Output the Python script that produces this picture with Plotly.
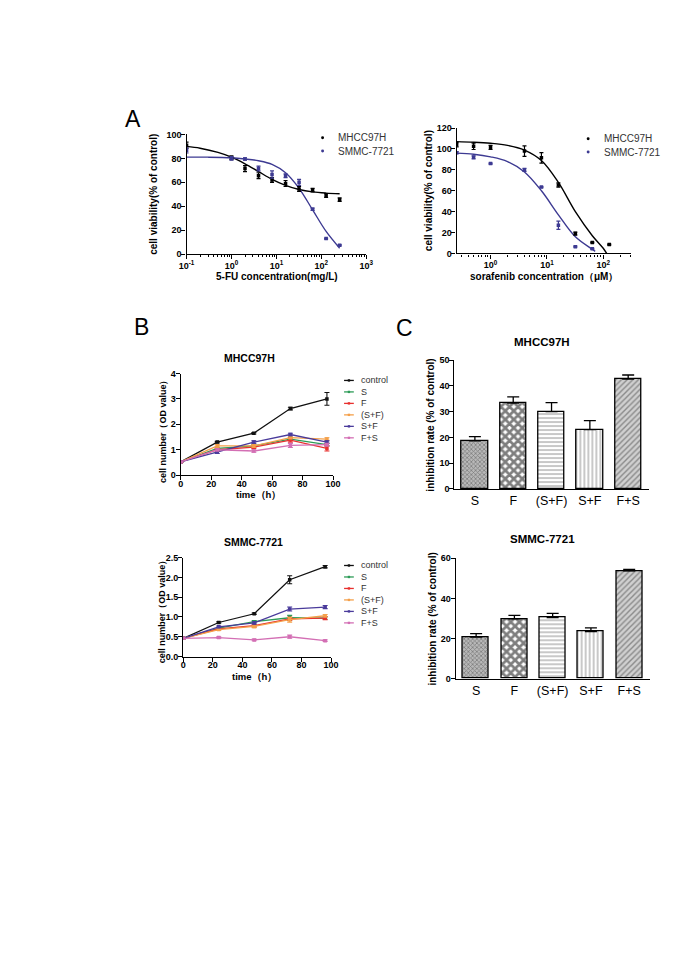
import plotly.graph_objects as go

W, H = 685, 969
OFF = 8  # default page body margin of the html page
FW, FH = W - OFF, H - OFF
FONT = "Liberation Sans, Arial, sans-serif"

# ---------------- Panel A data ----------------
fu_conc = [0.1, 1, 2, 4, 8, 16, 32, 64, 128, 256]
fu_mhcc = [91, 80.5, 71.5, 65.5, 62, 59, 54.5, 53.5, 49, 45.5]
fu_mhcc_err = [2.5, 1.5, 2.5, 2.5, 2, 2.5, 2, 1.5, 1.5, 1.5]
fu_smmc = [86.5, 80, 79.5, 71.5, 66.5, 65.5, 60, 37.5, 13, 7.5]
fu_smmc_err = [2, 1.5, 1, 2, 3, 1.5, 2.5, 1, 0.5, 0.5]

fu_fit_mhcc_x = [0.1, 0.2, 0.5, 1, 2, 4, 8, 16, 32, 64, 128, 256]
fu_fit_mhcc_y = [90, 88.5, 85, 81, 75.5, 69, 62.5, 57.5, 54, 52, 51, 50.5]
fu_fit_smmc_x = [0.1, 0.3, 1, 2, 4, 8, 16, 32, 64, 128, 256]
fu_fit_smmc_y = [81, 81, 80.5, 79.5, 78, 75, 68, 55, 37, 19, 5]

sor_conc = [0.25, 0.5, 1, 4, 8, 16, 32, 64, 128]
sor_mhcc = [104, 102.5, 101.5, 98, 91.5, 65.5, 19, 10.5, 8.5]
sor_mhcc_err = [2, 3, 2, 5, 5, 2, 1.5, 0.5, 0.5]
sor_smmc = [96.5, 92, 86, 80, 63.5, 27, 6.5, 4.5, None]
sor_smmc_err = [1, 1.5, 0.5, 1.5, 0.5, 4, 0.5, 0.5, 0]

sor_fit_mhcc_x = [0.25, 0.5, 1, 2, 4, 8, 16, 32, 64, 100, 115]
sor_fit_mhcc_y = [107, 106.5, 105.5, 103.5, 99, 89, 68, 40, 17, 5, 0]
sor_fit_smmc_x = [0.25, 0.5, 1, 2, 4, 8, 16, 32, 64, 72]
sor_fit_smmc_y = [96, 95, 92.5, 88, 78, 60, 37, 16, 4, 2]

# ---------------- Panel B data ----------------
time_h = [0, 24, 48, 72, 96]
groups = ["control", "S", "F", "(S+F)", "S+F", "F+S"]
mhcc_growth = {
    "control": [0.52, 1.3, 1.65, 2.62, 3.0],
    "S": [0.52, 1.05, 1.15, 1.42, 1.2],
    "F": [0.52, 1.0, 1.1, 1.38, 1.05],
    "(S+F)": [0.52, 1.15, 1.15, 1.48, 1.42],
    "S+F": [0.52, 0.9, 1.3, 1.6, 1.3],
    "F+S": [0.52, 1.0, 0.95, 1.17, 1.2],
}
mhcc_growth_err = {
    "control": [0.02, 0.03, 0.03, 0.05, 0.25],
    "S": [0.02, 0.05, 0.05, 0.05, 0.05],
    "F": [0.02, 0.05, 0.05, 0.08, 0.1],
    "(S+F)": [0.02, 0.05, 0.05, 0.05, 0.05],
    "S+F": [0.02, 0.05, 0.05, 0.05, 0.05],
    "F+S": [0.02, 0.05, 0.05, 0.08, 0.05],
}
smmc_growth = {
    "control": [0.46, 0.86, 1.08, 1.94, 2.27],
    "S": [0.46, 0.72, 0.88, 0.98, 0.97],
    "F": [0.46, 0.7, 0.78, 0.95, 0.97],
    "(S+F)": [0.46, 0.68, 0.76, 0.93, 1.03],
    "S+F": [0.46, 0.75, 0.85, 1.2, 1.25],
    "F+S": [0.46, 0.48, 0.42, 0.5, 0.4],
}
smmc_growth_err = {
    "control": [0.01, 0.02, 0.02, 0.1, 0.03],
    "S": [0.01, 0.02, 0.03, 0.06, 0.03],
    "F": [0.01, 0.02, 0.03, 0.04, 0.04],
    "(S+F)": [0.01, 0.02, 0.03, 0.06, 0.03],
    "S+F": [0.01, 0.02, 0.03, 0.05, 0.04],
    "F+S": [0.01, 0.02, 0.02, 0.04, 0.02],
}
group_colors = ["#111111", "#2e9c58", "#e8312f", "#f4a04a", "#4a3b9b", "#d36fb4"]

# ---------------- Panel C data ----------------
bar_cats = ["S", "F", "(S+F)", "S+F", "F+S"]
inhib_mhcc = [18.7, 33.3, 30.0, 23.0, 42.6]
inhib_mhcc_err = [1.6, 2.4, 3.5, 3.5, 1.6]
inhib_smmc = [20.7, 29.8, 30.4, 23.5, 53.7]
inhib_smmc_err = [1.8, 1.8, 2.1, 1.8, 0.8]

A_BLUE = "#3d3a92"


def px(x):
    return (x - OFF) / FW


def py(y):
    return 1 - (y - OFF) / FH


def xd(l, r):
    return [px(l), px(r)]


def yd(t, b):
    return [py(b), py(t)]


fig = go.Figure()

# ---- A left ----
fig.add_trace(go.Scatter(x=fu_fit_mhcc_x, y=fu_fit_mhcc_y, mode="lines", line=dict(color="black", width=1.4, shape="spline"),
                         xaxis="x", yaxis="y", showlegend=False))
fig.add_trace(go.Scatter(x=fu_fit_smmc_x, y=fu_fit_smmc_y, mode="lines", line=dict(color=A_BLUE, width=1.4, shape="spline"),
                         xaxis="x", yaxis="y", showlegend=False))
fig.add_trace(go.Scatter(x=fu_conc, y=fu_mhcc, mode="markers", marker=dict(color="black", size=3.5, symbol="square"),
                         error_y=dict(type="data", array=fu_mhcc_err, color="black", thickness=1.2, width=2),
                         xaxis="x", yaxis="y", showlegend=False))
fig.add_trace(go.Scatter(x=fu_conc, y=fu_smmc, mode="markers", marker=dict(color=A_BLUE, size=3.5, symbol="square"),
                         error_y=dict(type="data", array=fu_smmc_err, color=A_BLUE, thickness=1.2, width=2),
                         xaxis="x", yaxis="y", showlegend=False))

# ---- A right ----
fig.add_trace(go.Scatter(x=sor_fit_mhcc_x, y=sor_fit_mhcc_y, mode="lines", line=dict(color="black", width=1.4, shape="spline"),
                         xaxis="x2", yaxis="y2", showlegend=False))
fig.add_trace(go.Scatter(x=sor_fit_smmc_x, y=sor_fit_smmc_y, mode="lines", line=dict(color=A_BLUE, width=1.4, shape="spline"),
                         xaxis="x2", yaxis="y2", showlegend=False))
fig.add_trace(go.Scatter(x=sor_conc, y=sor_mhcc, mode="markers", marker=dict(color="black", size=3.5, symbol="square"),
                         error_y=dict(type="data", array=sor_mhcc_err, color="black", thickness=1.2, width=2),
                         xaxis="x2", yaxis="y2", showlegend=False))
fig.add_trace(go.Scatter(x=sor_conc, y=sor_smmc, mode="markers", marker=dict(color=A_BLUE, size=3.5, symbol="square"),
                         error_y=dict(type="data", array=sor_smmc_err, color=A_BLUE, thickness=1.2, width=2),
                         xaxis="x2", yaxis="y2", showlegend=False))

# ---- B ----
for ax, data, err in [("3", mhcc_growth, mhcc_growth_err), ("4", smmc_growth, smmc_growth_err)]:
    for g, c in zip(groups, group_colors):
        fig.add_trace(go.Scatter(x=time_h, y=data[g], mode="lines+markers",
                                 line=dict(color=c, width=1.3), marker=dict(color=c, size=3.5, symbol="square"),
                                 error_y=dict(type="data", array=err[g], color=c, thickness=1.1, width=2.5),
                                 xaxis="x" + ax, yaxis="y" + ax, showlegend=False))

# ---- C ----
pat = dict(
    shape=["x", "x", "-", "|", "/"],
    fgcolor=["#444444", "#000000", "#222222", "#222222", "#444444"],
    bgcolor=["#b8b8b8", "#ffffff", "#ffffff", "#ffffff", "#d0d0d0"],
    size=[3, 6, 4, 4, 4],
    solidity=[0.45, 0.7, 0.25, 0.25, 0.35],
    fillmode="overlay",
)
for ax, vals, err in [("5", inhib_mhcc, inhib_mhcc_err), ("6", inhib_smmc, inhib_smmc_err)]:
    fig.add_trace(go.Bar(x=bar_cats, y=vals, width=0.68,
                         marker=dict(color="white", line=dict(color="black", width=1.3), pattern=pat),
                         error_y=dict(type="data", symmetric=False, array=err, arrayminus=[0] * len(err),
                                      color="black", thickness=1.3, width=6),
                         xaxis="x" + ax, yaxis="y" + ax, showlegend=False))

tickfont = dict(family=FONT, size=9, color="black", weight="bold")
base = dict(showline=True, linecolor="black", linewidth=1.3, ticks="outside", ticklen=4, tickwidth=1.3,
            tickcolor="black", showgrid=False, zeroline=False, tickfont=tickfont, fixedrange=True)
xb = dict(base, ticklabelstandoff=-4)
xlog = dict(base, ticklabelstandoff=-1)
yb = dict(base, ticklabelstandoff=-2)


def log_minor(lo, hi):
    vals = []
    for e in range(lo, hi):
        for m in range(2, 10):
            vals.append(m * 10 ** e)
    return vals


layout = dict(
    width=FW, height=FH, margin=dict(l=0, r=0, t=0, b=0),
    paper_bgcolor="white", plot_bgcolor="rgba(0,0,0,0)", bargap=0,
    xaxis=dict(xlog, type="log", domain=xd(182.7, 366.7), range=[-1, 3], anchor="y",
               tickvals=[0.1, 1, 10, 100, 1000],
               ticktext=["10<sup>-1</sup>", "10<sup>0</sup>", "10<sup>1</sup>", "10<sup>2</sup>", "10<sup>3</sup>"],
               minor=dict(ticks="outside", ticklen=2, tickwidth=1, tickcolor="black", tickvals=log_minor(-1, 3))),
    yaxis=dict(yb, domain=yd(130.7, 251.7), range=[0, 100], anchor="x", tickvals=[0, 20, 40, 60, 80, 100]),
    xaxis2=dict(xlog, type="log", domain=xd(459.3, 638.3), range=[-0.602, 2.5], anchor="y2",
                tickvals=[1, 10, 100],
                ticktext=["10<sup>0</sup>", "10<sup>1</sup>", "10<sup>2</sup>"],
                minor=dict(ticks="outside", ticklen=2, tickwidth=1, tickcolor="black",
                           tickvals=[0.3, 0.4, 0.5, 0.6, 0.7, 0.8, 0.9] + log_minor(0, 2) + [200, 300])),
    yaxis2=dict(yb, domain=yd(124.3, 251), range=[0, 120], anchor="x2", tickvals=[0, 20, 40, 60, 80, 100, 120]),
    xaxis3=dict(xb, domain=xd(176.7, 332.7), range=[0, 100], anchor="y3", tickvals=[0, 20, 40, 60, 80, 100]),
    yaxis3=dict(yb, domain=yd(372.3, 475), range=[0, 4], anchor="x3", tickvals=[0, 1, 2, 3, 4]),
    xaxis4=dict(xb, domain=xd(179.3, 330.7), range=[0, 100], anchor="y4", tickvals=[0, 20, 40, 60, 80, 100]),
    yaxis4=dict(yb, domain=yd(558.3, 658.3), range=[0, 2.5], anchor="x4",
                tickvals=[0, 0.5, 1, 1.5, 2, 2.5], ticktext=["0.0", "0.5", "1.0", "1.5", "2.0", "2.5"]),
    xaxis5=dict(xb, domain=xd(457, 656), range=[-0.535, 4.535], anchor="y5", ticks="", ticklabelstandoff=0,
                tickfont=dict(family=FONT, size=12.5, color="black")),
    yaxis5=dict(yb, domain=yd(358.7, 489), range=[0, 50], anchor="x5", tickvals=[0, 10, 20, 30, 40, 50]),
    xaxis6=dict(xb, domain=xd(458.3, 657), range=[-0.535, 4.535], anchor="y6", ticks="", ticklabelstandoff=0,
                tickfont=dict(family=FONT, size=12.5, color="black")),
    yaxis6=dict(yb, domain=yd(559, 680.7), range=[0, 60], anchor="x6", tickvals=[0, 20, 40, 60]),
)
fig.update_layout(**layout)

annotations = []
shapes = []


def text(x, y, s, size=10, bold=True, angle=0, color="black", xanchor="center", family=FONT):
    annotations.append(dict(x=px(x), y=py(y), xref="paper", yref="paper", text=s, showarrow=False,
                            textangle=angle, xanchor=xanchor, yanchor="middle",
                            font=dict(family=family, size=size, color=color, weight="bold" if bold else "normal")))


# Panel letters
text(128, 115, "A", size=23, bold=False)
text(137, 325, "B", size=23, bold=False)
text(406, 326, "C", size=23, bold=False)

# A axis titles
text(148, 191, "cell viability(% of control)", size=10, angle=-90)
text(275, 274, "5-FU concentration(mg/L)", size=10)
text(430, 188, "cell viability(% of control)", size=10, angle=-90)
text(549, 274, "sorafenib concentration（μM）", size=10)

# A legends
for (lx, tx), ys in [((322, 336), (134, 147.5)), ((594, 608), (135, 148.5))]:
    for name, c, y in zip(["MHCC97H", "SMMC-7721"], ["black", A_BLUE], ys):
        shapes.append(dict(type="circle", xref="paper", yref="paper", x0=px(lx - 1.5), x1=px(lx + 1.5),
                           y0=py(y + 1.5), y1=py(y - 1.5), fillcolor=c, line=dict(width=0)))
        text(tx, y, name, size=10, bold=False, color="#333333", xanchor="left")

# B titles and axis titles
text(247, 357, "MHCC97H", size=10.5)
text(158, 428, "cell number（OD value）", size=9, angle=-90)
text(256, 495, "time（h）", size=9.5)
text(251, 543, "SMMC-7721", size=10.5)
text(157, 610, "cell number（OD value）", size=9, angle=-90)
text(252, 678, "time（h）", size=9.5)

# B legends
for y0 in [379.3, 566.3]:
    for i, (g, c) in enumerate(zip(groups, group_colors)):
        y = y0 + i * 11.6
        shapes.append(dict(type="line", xref="paper", yref="paper", x0=px(344), x1=px(354), y0=py(y), y1=py(y),
                           line=dict(color=c, width=1.3)))
        shapes.append(dict(type="rect", xref="paper", yref="paper", x0=px(347.8), x1=px(350.2),
                           y0=py(y + 1.2), y1=py(y - 1.2), fillcolor=c, line=dict(width=0)))
        text(359, y, g, size=9, bold=False, color="#333333", xanchor="left")

# C titles
text(547, 340, "MHCC97H", size=11.5)
text(433, 424, "inhibition rate (% of control)", size=10, angle=-90)
text(547, 540, "SMMC-7721", size=11.5)
text(435, 620, "inhibition rate (% of control)", size=10, angle=-90)

fig.update_layout(annotations=annotations, shapes=shapes)
fig.write_html("out.html")
